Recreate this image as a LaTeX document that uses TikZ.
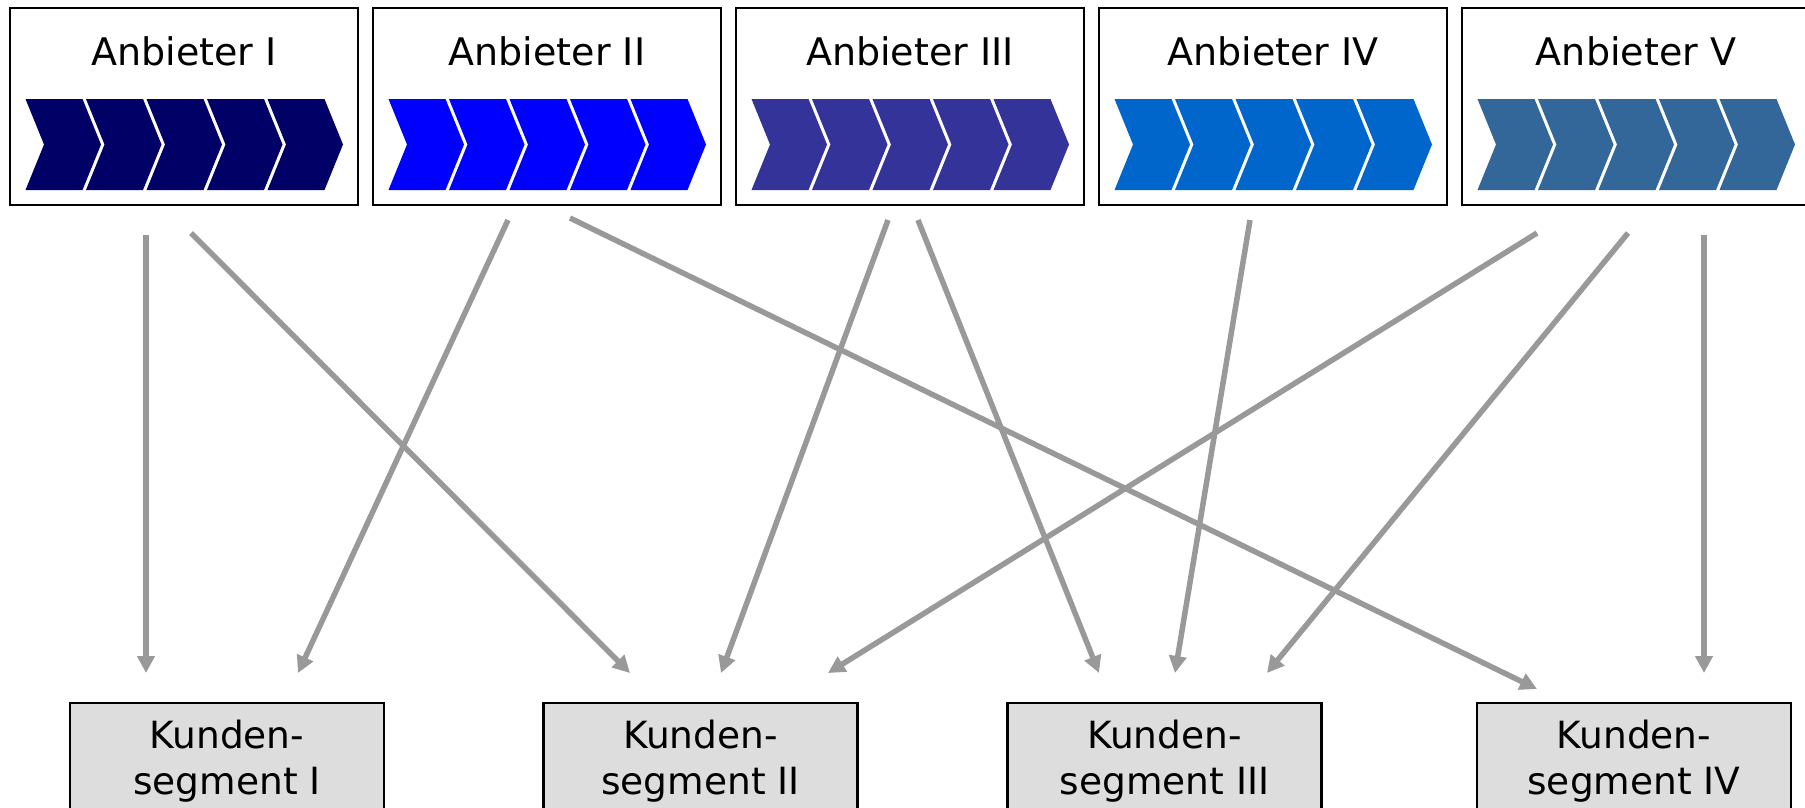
\documentclass[tikz,border=0pt]{standalone}
\usepackage{fontspec}
\setmainfont{DejaVu Sans}
\usetikzlibrary{arrows.meta}
\definecolor{cA}{HTML}{000066}
\definecolor{cB}{HTML}{0000FF}
\definecolor{cC}{HTML}{333399}
\definecolor{cD}{HTML}{0066CC}
\definecolor{cE}{HTML}{336699}
\definecolor{kgray}{HTML}{DDDDDD}
\definecolor{arrowgray}{HTML}{999999}
\begin{document}
\begin{tikzpicture}[x=1pt,y=-1pt,
  abox/.style={draw=black,line width=2.5pt,minimum width=348pt,minimum height=197pt,inner sep=0pt,fill=white},
  kbox/.style={draw=black,line width=2.5pt,fill=kgray,minimum width=314pt,minimum height=130pt,inner sep=0pt},
  atext/.style={font=\fontsize{38}{44}\selectfont,anchor=base,inner sep=0pt},
  ktext/.style={font=\fontsize{37.5}{46}\selectfont,align=center,anchor=base,inner sep=0pt},
  conn/.style={draw=arrowgray,line width=5.5pt,-{Triangle[length=17pt,width=17pt]}}]
\useasboundingbox (0,0) rectangle (1805,807);
\clip (0,0) rectangle (1805,807);
\fill[white] (0,0) rectangle (1805,807);
% supplier boxes
\node[abox] (a1) at (184,106.5) {};
\node[abox] (a2) at (547,106.5) {};
\node[abox] (a3) at (910,106.5) {};
\node[abox] (a4) at (1273,106.5) {};
\node[abox] (a5) at (1636,106.5) {};
\node[atext] (a1t) at (184,65) {Anbieter I};
\node[atext] (a2t) at (547,65) {Anbieter II};
\node[atext] (a3t) at (910,65) {Anbieter III};
\node[atext] (a4t) at (1273,65) {Anbieter IV};
\node[atext] (a5t) at (1636,65) {Anbieter V};
% chevrons
\foreach \L/\c in {10/cA,373/cB,736/cC,1099/cD,1462/cE}{
  \foreach \i in {0,...,4}{
    \fill[\c] ({\L+15.5+60.5*\i},99) -- ++(57,0) -- ++(18.5,45.5) -- ++(-18.5,45.5)
      -- ++(-57,0) -- ++(18.5,-45.5) -- cycle;
  }
}
% customer boxes
\node[kbox] (k1) at (227,768) {};
\node[kbox] (k2) at (700.5,768) {};
\node[kbox] (k3) at (1164.5,768) {};
\node[kbox] (k4) at (1634,768) {};
\node[ktext] (k1t) at (227,794) {Kunden-\\segment I};
\node[ktext] (k2t) at (700.5,794) {Kunden-\\segment II};
\node[ktext] (k3t) at (1164.5,794) {Kunden-\\segment III};
\node[ktext] (k4t) at (1634,794) {Kunden-\\segment IV};
% connector end points
\coordinate (s1) at (146,235);  \coordinate (e1) at (146,673);
\coordinate (s2) at (191,233);  \coordinate (e2) at (630,673);
\coordinate (s3) at (508,220);  \coordinate (e3) at (298,673);
\coordinate (s4) at (570,218);  \coordinate (e4) at (1537,689);
\coordinate (s5) at (888,220);  \coordinate (e5) at (721,673);
\coordinate (s6) at (918,220);  \coordinate (e6) at (1099,673);
\coordinate (s7) at (1250,220); \coordinate (e7) at (1175,673);
\coordinate (s8) at (1537,233); \coordinate (e8) at (828,673);
\coordinate (s9) at (1628,233); \coordinate (e9) at (1267,673);
\coordinate (s10) at (1704,235); \coordinate (e10) at (1704,673);
\foreach \n in {1,...,10}{
  \draw[conn] (s\n) -- (e\n);
}
\end{tikzpicture}
\end{document}
